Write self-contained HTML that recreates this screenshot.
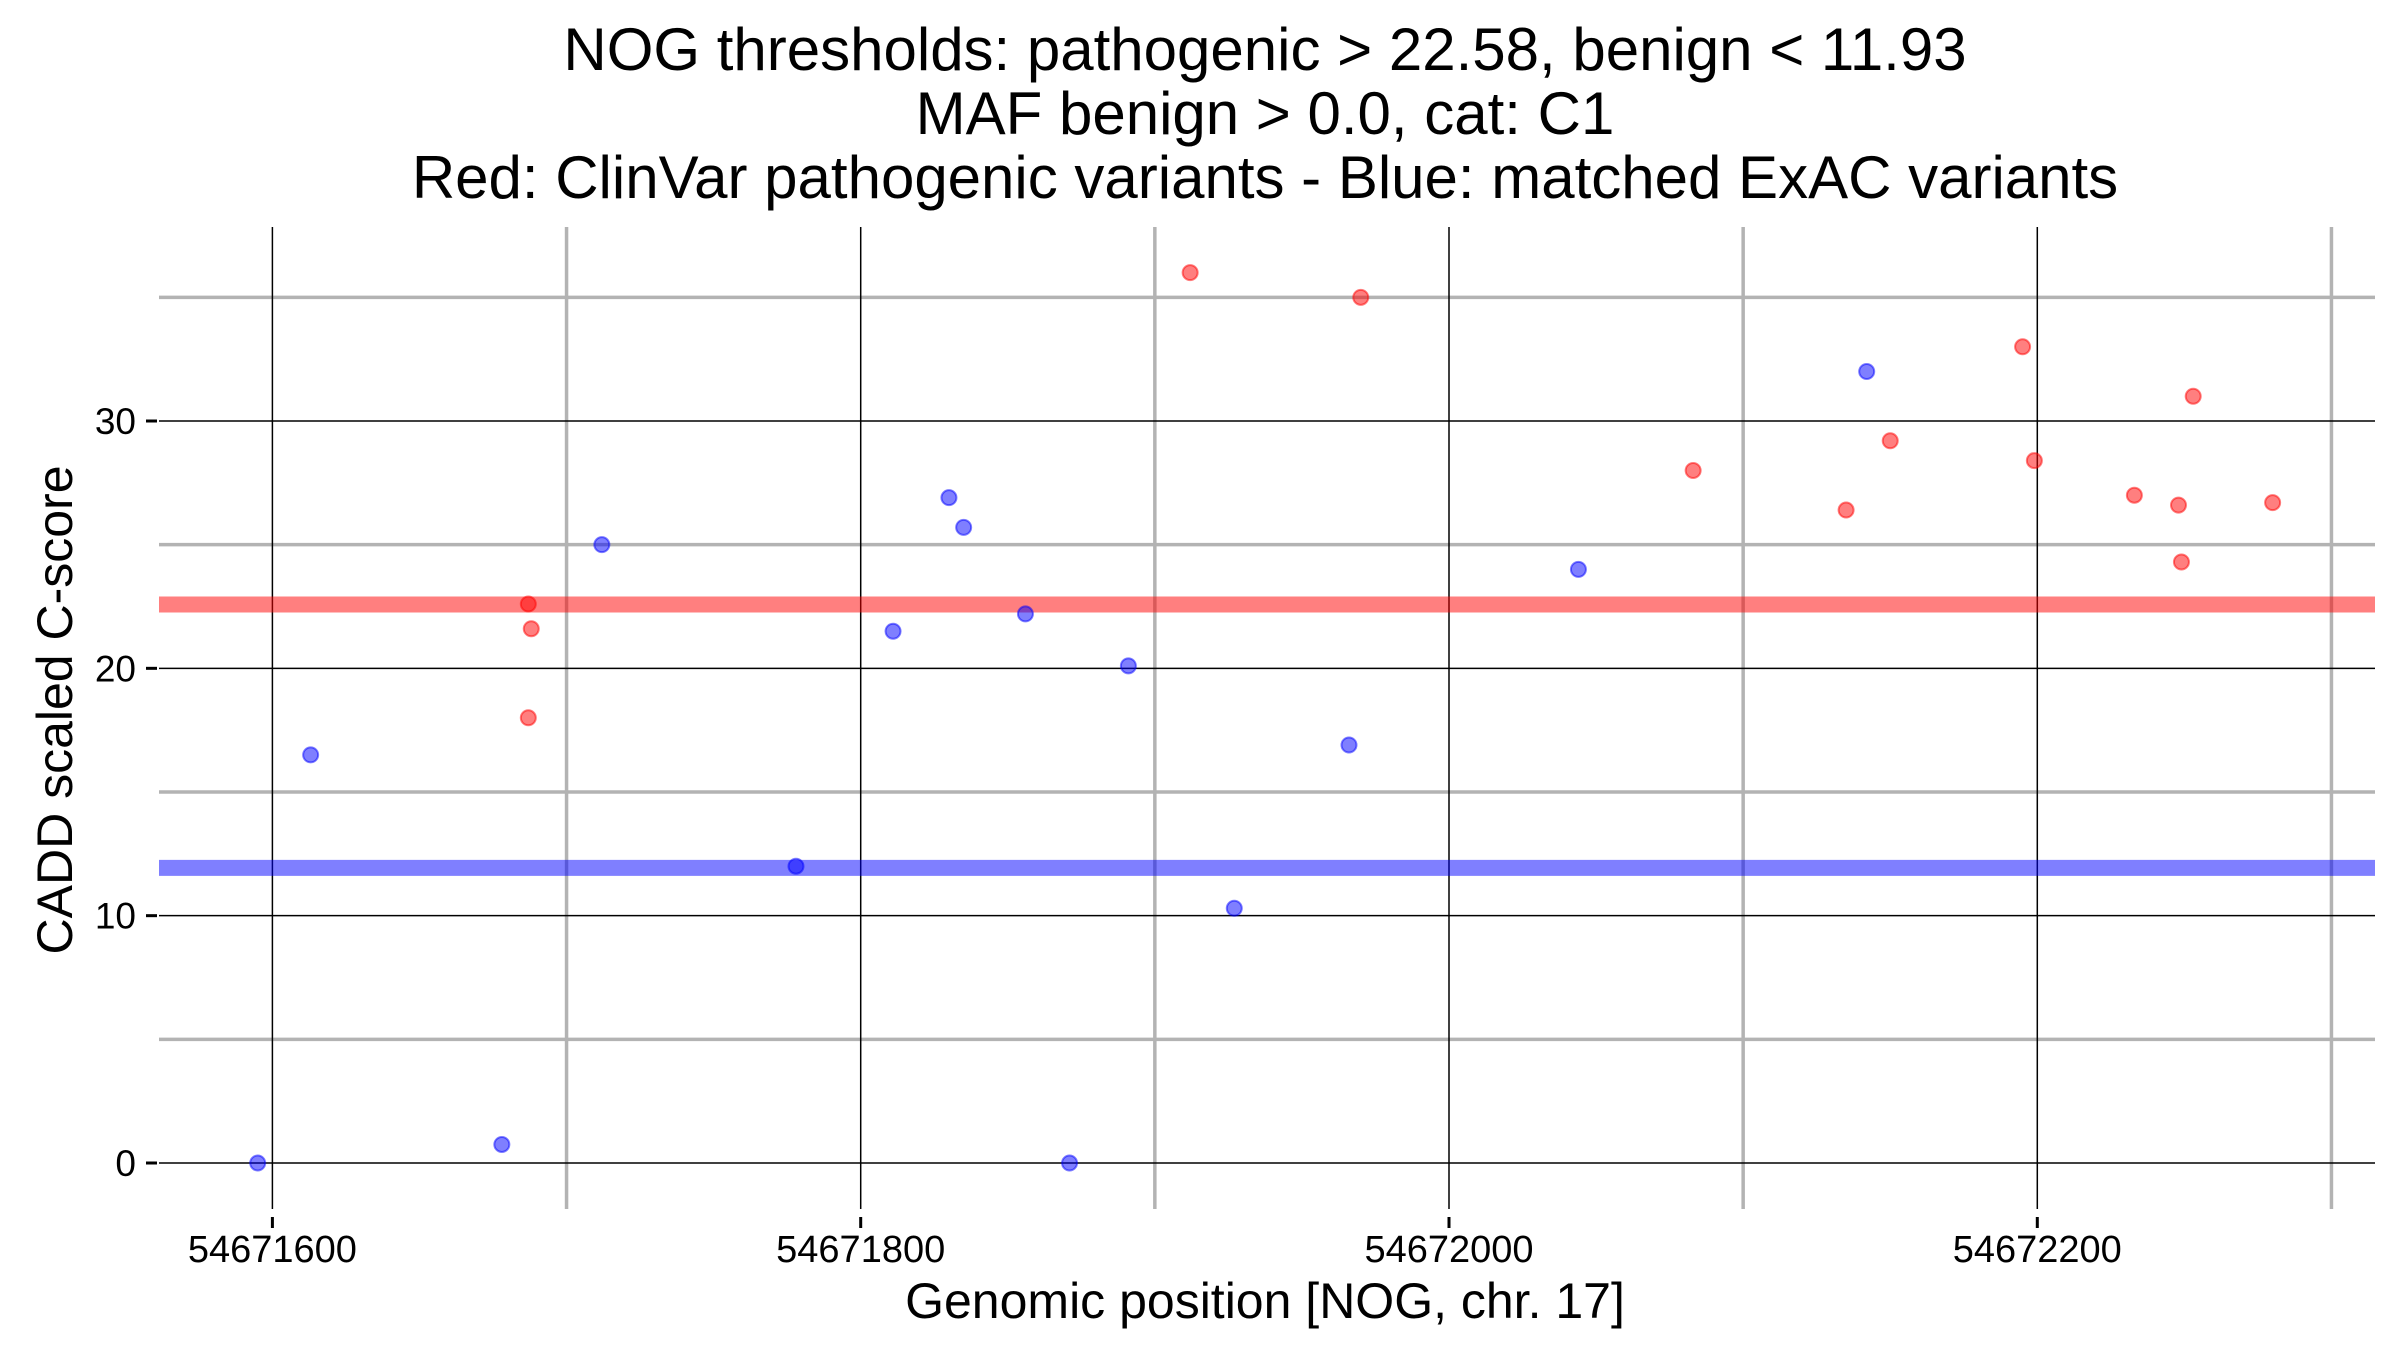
<!DOCTYPE html>
<html><head><meta charset="utf-8"><style>
html,body{margin:0;padding:0;background:#fff;}
svg{display:block;font-family:"Liberation Sans",Arial,sans-serif;}
</style></head><body>
<svg id="chart" width="2400" height="1350" viewBox="0 0 2400 1350" xmlns="http://www.w3.org/2000/svg">
<g font-size="60" text-anchor="middle" fill="#000">
<text x="1265" y="70">NOG thresholds: pathogenic &gt; 22.58, benign &lt; 11.93</text>
<text x="1265" y="134">MAF benign &gt; 0.0, cat: C1</text>
<text x="1265" y="198">Red: ClinVar pathogenic variants - Blue: matched ExAC variants</text>
</g>
<g id="grid"></g>
<g id="thresholds"></g>
<g id="points"></g>
<g id="axes"></g>
<text x="1265" y="1318" font-size="50" text-anchor="middle">Genomic position [NOG, chr. 17]</text>
<text transform="translate(72,710) rotate(-90)" font-size="50" text-anchor="middle">CADD scaled C-score</text>
</svg>
<script>
const xTicks = [54671600, 54671800, 54672000, 54672200];
const xMinor = [54671700, 54671900, 54672100, 54672300];
const yTicks = [0, 10, 20, 30];
const yMinor = [5, 15, 25, 35];
const thresholdPathogenic = 22.58;
const thresholdBenign = 11.93;
const blueX = [54671595, 54671613, 54671678, 54671712, 54671778, 54671811, 54671830, 54671835, 54671856, 54671871, 54671891, 54671927, 54671966, 54672044, 54672142];
const blueY = [0, 16.5, 0.75, 25.0, 12.0, 21.5, 26.9, 25.7, 22.2, 0, 20.1, 10.3, 16.9, 24.0, 32.0];
const redX = [54671687, 54671688, 54671687, 54671912, 54671970, 54672083, 54672135, 54672150, 54672195, 54672199, 54672233, 54672248, 54672249, 54672253, 54672280];
const redY = [22.6, 21.6, 18.0, 36.0, 35.0, 28.0, 26.4, 29.2, 33.0, 28.4, 27.0, 26.6, 24.3, 31.0, 26.7];

const NS = "http://www.w3.org/2000/svg";
const L = 159, R = 2375, T = 227, B = 1209;
const xPx0 = 272.4, xPxPer = (2037.3 - 272.4) / 600;
const yPx0 = 1163, yPxPer = (1163 - 421) / 30;
function sx(v){ return xPx0 + (v - 54671600) * xPxPer; }
function sy(v){ return yPx0 - v * yPxPer; }
function mk(tag, attrs, parent){
  const e = document.createElementNS(NS, tag);
  for (const k in attrs) e.setAttribute(k, attrs[k]);
  parent.appendChild(e); return e;
}
const grid = document.getElementById('grid');
const axes = document.getElementById('axes');
yMinor.forEach(v => {
  const l = mk('line', {x1:L, x2:R, y1:sy(v), y2:sy(v), stroke:'#b3b3b3', 'stroke-width':3.5}, grid);
  
  
});
xMinor.forEach(v => {
  const l = mk('line', {x1:sx(v), x2:sx(v), y1:T, y2:B, stroke:'#b3b3b3', 'stroke-width':3.5}, grid);
  
  
});
yTicks.forEach(v => {
  const l = mk('line', {x1:L, x2:R, y1:sy(v), y2:sy(v), stroke:'#000', 'stroke-width':1.5}, grid);
  
  
  const t = mk('line', {x1:146, x2:157, y1:sy(v), y2:sy(v), stroke:'#000', 'stroke-width':3}, axes);
  
  
  const tx = mk('text', {x:136, y:sy(v)+13, 'font-size':37, 'text-anchor':'end'}, axes);
  tx.textContent = v;
  
  
});
xTicks.forEach(v => {
  const l = mk('line', {x1:sx(v), x2:sx(v), y1:T, y2:B, stroke:'#000', 'stroke-width':1.5}, grid);
  
  
  const t = mk('line', {x1:sx(v), x2:sx(v), y1:1217, y2:1228, stroke:'#000', 'stroke-width':3}, axes);
  
  
  const tx = mk('text', {x:sx(v), y:1262, 'font-size':38, 'text-anchor':'middle'}, axes);
  tx.textContent = v;
  
  
});
const th = document.getElementById('thresholds');
const tp = mk('line', {x1:L, x2:R, y1:sy(thresholdPathogenic), y2:sy(thresholdPathogenic), stroke:'rgba(255,0,0,0.5)', 'stroke-width':16}, th);


const tb = mk('line', {x1:L, x2:R, y1:sy(thresholdBenign), y2:sy(thresholdBenign), stroke:'rgba(0,0,255,0.5)', 'stroke-width':16}, th);


const pts = document.getElementById('points');
blueX.forEach((x, i) => {
  const c = mk('circle', {cx:sx(x), cy:sy(blueY[i]), r:7.5, fill:'rgba(0,0,255,0.5)', stroke:'rgba(0,0,255,0.5)', 'stroke-width':2}, pts);
  
  
});
redX.forEach((x, i) => {
  const c = mk('circle', {cx:sx(x), cy:sy(redY[i]), r:7.5, fill:'rgba(255,0,0,0.5)', stroke:'rgba(255,0,0,0.5)', 'stroke-width':2}, pts);
  
  
});
</script>
</body></html>
